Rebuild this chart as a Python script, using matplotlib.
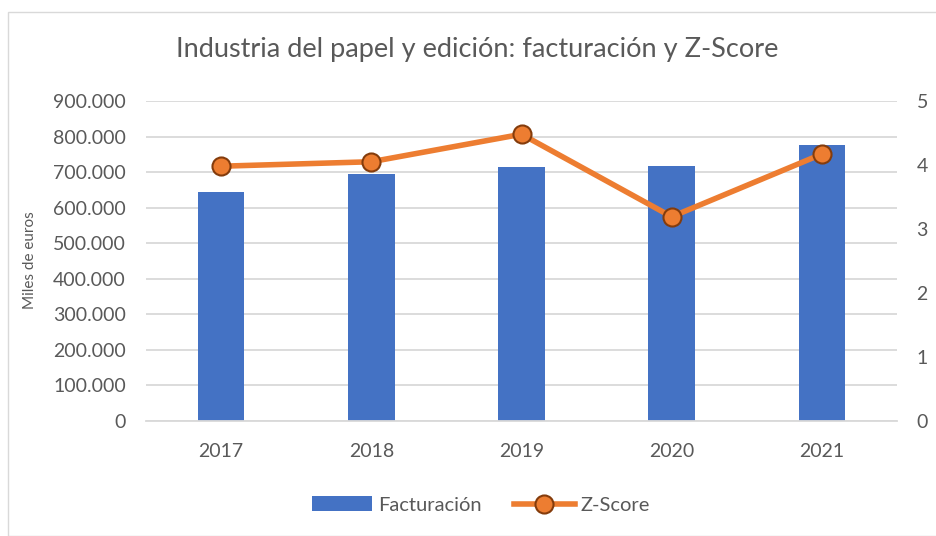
import matplotlib
matplotlib.use("Agg")
import matplotlib.pyplot as plt
from matplotlib.patches import Rectangle
from matplotlib.ticker import FuncFormatter

# ── data ──────────────────────────────────────────────────────────────────────
years = ["2017", "2018", "2019", "2020", "2021"]
facturacion = [643000, 694000, 714000, 716000, 776000]   # miles de euros
zscore = [3.98, 4.05, 4.48, 3.19, 4.17]

BAR_C = "#4472C4"
LINE_C = "#ED7D31"
EDGE_C = "#843C0C"
TXT_C = "#595959"
GRID_C = "#D9D9D9"

plt.rcParams["font.family"] = ["Lato", "DejaVu Sans"]

fig = plt.figure(figsize=(9.36, 5.36), dpi=100)
fig.patches.append(Rectangle((8 / 936, 0), 1, 1 - 12 / 536, transform=fig.transFigure,
                             fill=False, edgecolor=GRID_C, lw=1.0))

ax = fig.add_axes([146 / 936, 115.3 / 536, 751 / 936, 319.7 / 536])
x = list(range(len(years)))
ax.bar(x, facturacion, width=0.31, color=BAR_C, zorder=2, label="Facturación")
ax.set_xlim(-0.5, len(years) - 0.5)
ax.set_ylim(0, 900000)
ax.set_yticks(range(0, 900001, 100000))
ax.yaxis.set_major_formatter(FuncFormatter(lambda v, p: f"{int(v):,}".replace(",", ".")))
ax.grid(axis="y", color=GRID_C, lw=1.3, zorder=0)
ax.set_xticks(x, years)
for s in ("top", "right", "left"):
    ax.spines[s].set_visible(False)
ax.spines["bottom"].set_color(GRID_C)
ax.spines["bottom"].set_linewidth(1.3)
ax.tick_params(length=0, labelsize=14, colors=TXT_C)
ax.tick_params(axis="x", pad=16)
ax.tick_params(axis="y", pad=14.5)
ax.set_ylabel("Miles de euros", fontsize=11, color=TXT_C)
ax.yaxis.set_label_coords(-0.145, 0.503)

ax2 = ax.twinx()
ax2.plot(x, zscore, color=LINE_C, lw=4, marker="o", ms=13,
         mfc=LINE_C, mec=EDGE_C, mew=1.5, zorder=3, label="Z-Score")
ax2.set_ylim(0, 5)
ax2.set_yticks(range(0, 6))
for s in ax2.spines.values():
    s.set_visible(False)
ax2.tick_params(length=0, labelsize=14, colors=TXT_C, pad=14)

fig.text(477 / 936, 1 - 50 / 536, "Industria del papel y edición: facturación y Z-Score",
         ha="center", va="center", fontsize=19.5, color=TXT_C)

h1, l1 = ax.get_legend_handles_labels()
h2, l2 = ax2.get_legend_handles_labels()
fig.legend(h1 + h2, l1 + l2, loc="center", bbox_to_anchor=(481 / 936, 1 - 505 / 536),
           ncol=2, frameon=False, fontsize=14.5, labelcolor=TXT_C,
           handlelength=3.0, handletextpad=0.3, columnspacing=1.6)

fig.savefig("out.png", dpi=100)
